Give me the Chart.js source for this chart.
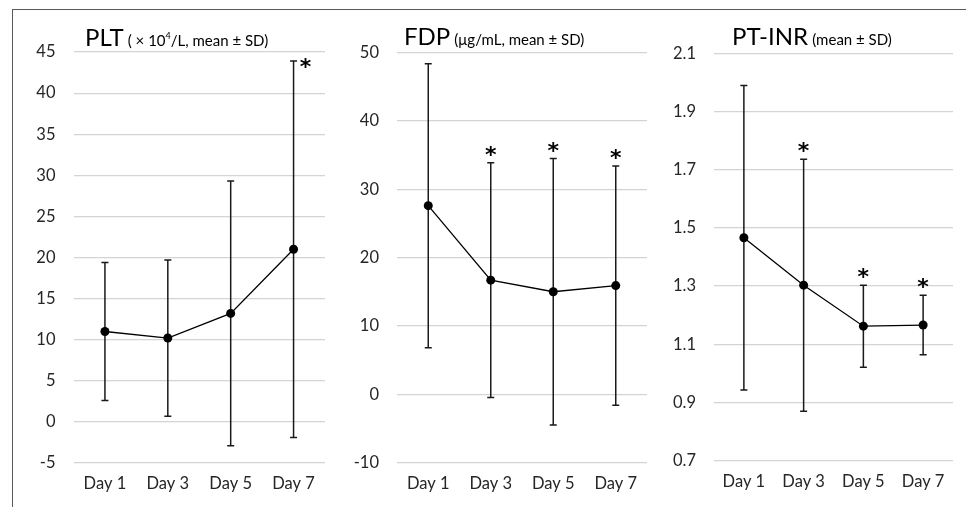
<!DOCTYPE html>
<html>
<head>
<meta charset="utf-8">
<script src="https://cdn.jsdelivr.net/npm/chart.js@4.4.1/dist/chart.umd.min.js"></script>
<style>
  body { margin: 0; background: #fff; }
  #wrap { position: relative; width: 966px; height: 507px; overflow: hidden; font-family: Lato, sans-serif; }
  #frame { position: absolute; left: 12px; top: 9px; right: 0; bottom: 0; border-top: 1px solid #595959; border-left: 1px solid #595959; }
  canvas { position: absolute; top: 10px; }
  .title { position: absolute; top: 23px; color: #000; white-space: nowrap; line-height: 26px; }
  .title .big { font-size: 24px; }
  .title .small { font-size: 15px; }
  .title sup { font-size: 9px; vertical-align: 7px; }
</style>
</head>
<body>
<div id="wrap">
  <div id="frame"></div>
  <canvas id="pltChart" width="320" height="497" style="left:14px"></canvas>
  <canvas id="fdpChart" width="320" height="497" style="left:334px"></canvas>
  <canvas id="inrChart" width="312" height="497" style="left:654px"></canvas>
  <div class="title" style="left:85px"><span class="big">PLT</span> <span class="small">( × 10<sup>4</sup>/L, mean ± SD)</span></div>
  <div class="title" style="left:404px"><span class="big">FDP</span> <span class="small">(μg/mL, mean ± SD)</span></div>
  <div class="title" style="left:732px"><span class="big">PT-INR</span> <span class="small">(mean ± SD)</span></div>
</div>
<script>
// Coagulation markers over time (mean ± SD)

const days = ["Day 1", "Day 3", "Day 5", "Day 7"];

const pltMean = [11.0, 10.2, 13.2, 21.0];
const pltSD = [8.4, 9.5, 16.1, 22.9];
const pltSig = [false, false, false, true];

const fdpMean = [27.6, 16.7, 15.0, 15.9];
const fdpSD = [20.8, 17.2, 19.5, 17.5];
const fdpSig = [false, true, true, true];

const inrMean = [1.466, 1.303, 1.162, 1.166];
const inrSD = [0.523, 0.433, 0.141, 0.102];
const inrSig = [false, true, true, true];

// Draws the SD whiskers behind the points and the significance asterisks on top
const errorBarPlugin = {
  id: "errorBars",
  beforeDatasetsDraw: function (chart, args, opts) {
    const ctx = chart.ctx;
    const x = chart.scales.x;
    const y = chart.scales.y;
    ctx.save();
    ctx.strokeStyle = "#1a1a1a";
    ctx.lineWidth = 1.5;
    opts.mean.forEach((m, i) => {
      const px = x.getPixelForValue(i);
      const top = y.getPixelForValue(m + opts.sd[i]);
      const bot = y.getPixelForValue(m - opts.sd[i]);
      ctx.beginPath();
      ctx.moveTo(px, top);
      ctx.lineTo(px, bot);
      ctx.moveTo(px - 3.5, top);
      ctx.lineTo(px + 3.5, top);
      ctx.moveTo(px - 3.5, bot);
      ctx.lineTo(px + 3.5, bot);
      ctx.stroke();
    });
    ctx.restore();
  },
  afterDatasetsDraw: function (chart, args, opts) {
    const ctx = chart.ctx;
    const x = chart.scales.x;
    const y = chart.scales.y;
    ctx.save();
    ctx.fillStyle = "#000";
    ctx.font = "bold 22px 'DejaVu Sans'";
    ctx.textAlign = "center";
    const mt = ctx.measureText("*");
    const shift = (mt.actualBoundingBoxAscent - mt.actualBoundingBoxDescent) / 2;
    opts.sig.forEach((s, i) => {
      if (!s) return;
      const px = x.getPixelForValue(i);
      const top = y.getPixelForValue(opts.mean[i] + opts.sd[i]);
      if (opts.side === "right") {
        ctx.fillText("*", px + 12, top + 2 + shift);
      } else {
        ctx.fillText("*", px, top - 12 + shift);
      }
    });
    ctx.restore();
  },
};

function makeChart(canvasId, mean, sd, sig, yMin, yMax, step, decimals, area, side) {
  const canvas = document.getElementById(canvasId);
  return new Chart(canvas, {
    type: "line",
    data: {
      labels: days,
      datasets: [
        {
          data: mean,
          borderColor: "#000",
          backgroundColor: "#000",
          borderWidth: 1.3,
          pointRadius: 4.5,
          pointBackgroundColor: "#000",
          pointBorderWidth: 0,
          tension: 0,
        },
      ],
    },
    options: {
      responsive: false,
      animation: false,
      layout: {
        padding: { top: area.top, right: canvas.width - area.right, bottom: 9, left: 0 },
      },
      plugins: {
        legend: { display: false },
        tooltip: { enabled: false },
        errorBars: { mean: mean, sd: sd, sig: sig, side: side },
      },
      scales: {
        x: {
          offset: true,
          grid: { display: false },
          border: { display: false },
          ticks: {
            color: "#262626",
            padding: 3,
            font: { family: "Lato", size: 16.5 },
          },
          afterFit: function (scale) {
            scale.height = canvas.height - 9 - area.bottom;
          },
        },
        y: {
          min: yMin,
          max: yMax,
          grid: { color: "#d4d4d4", lineWidth: 1.2, drawTicks: false },
          border: { display: false },
          ticks: {
            stepSize: step,
            color: "#262626",
            padding: 18,
            font: { family: "Lato", size: 16.5 },
            callback: function (v) {
              return v.toFixed(decimals);
            },
          },
          afterFit: function (scale) {
            scale.width = area.left;
          },
        },
      },
    },
    plugins: [errorBarPlugin],
  });
}

makeChart("pltChart", pltMean, pltSD, pltSig, -5, 45, 5, 0,
  { left: 59.5, right: 311, top: 42, bottom: 453 }, "right");
makeChart("fdpChart", fdpMean, fdpSD, fdpSig, -10, 50, 10, 0,
  { left: 63, right: 313, top: 42.7, bottom: 452.5 }, "above");
makeChart("inrChart", inrMean, inrSD, inrSig, 0.7, 2.1, 0.2, 1,
  { left: 60, right: 299, top: 43.3, bottom: 450.6 }, "above");
</script>
</body>
</html>
